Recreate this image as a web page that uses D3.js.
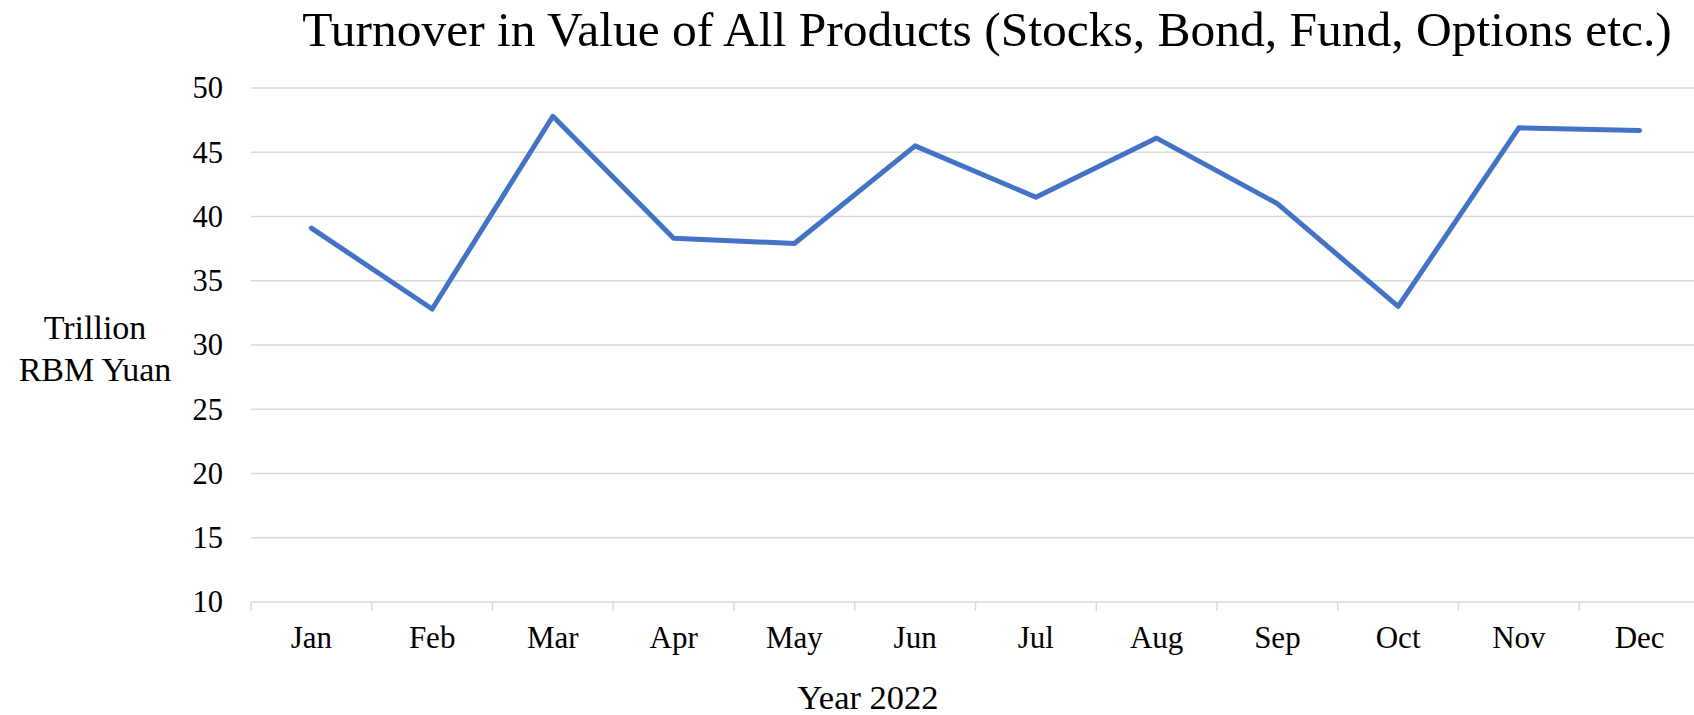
<!DOCTYPE html>
<html>
<head>
<meta charset="utf-8">
<script src="https://cdn.jsdelivr.net/npm/d3@7"></script>
<style>
  html, body { margin: 0; padding: 0; background: #fff; }
  svg { display: block; font-family: "Liberation Serif", "Times New Roman", serif; }
</style>
</head>
<body>
<svg id="chart" width="1694" height="715"></svg>
<script>
const months = ["Jan","Feb","Mar","Apr","May","Jun","Jul","Aug","Sep","Oct","Nov","Dec"];
const turnover = [39.1, 32.8, 47.8, 38.3, 37.9, 45.5, 41.5, 46.1, 41.0, 33.0, 46.9, 46.7];
const yTicks = [10, 15, 20, 25, 30, 35, 40, 45, 50];
const titleText = "Turnover in Value of All Products (Stocks, Bond, Fund, Options etc.)";
const yTitleLines = ["Trillion", "RBM Yuan"];
const xTitleText = "Year 2022";

const plotLeft = 251, plotRight = 1700, plotTop = 88, plotBottom = 602;

const svg = d3.select("#chart");

const x = d3.scaleBand().domain(months).range([plotLeft, plotRight]).padding(0);
const y = d3.scaleLinear().domain([10, 50]).range([plotBottom, plotTop]);

// gridlines
svg.append("g")
  .selectAll("line")
  .data(yTicks)
  .join("line")
  .attr("x1", plotLeft).attr("x2", plotRight)
  .attr("y1", d => y(d)).attr("y2", d => y(d))
  .attr("stroke", "#d9d9d9").attr("stroke-width", 1.5);

// y axis labels
const yAxis = svg.append("g")
  .attr("transform", `translate(${plotLeft},0)`)
  .call(d3.axisLeft(y).tickValues(yTicks).tickSize(0).tickPadding(28).tickFormat(d3.format("d")));
yAxis.select(".domain").remove();
yAxis.selectAll("text")
  .attr("font-family", "Liberation Serif, serif")
  .attr("font-size", 30.5).attr("fill", "#000");

// x axis ticks at category boundaries
const boundaries = months.map(m => x(m)).concat([plotRight]);
svg.append("g")
  .selectAll("line")
  .data(boundaries)
  .join("line")
  .attr("x1", d => d).attr("x2", d => d)
  .attr("y1", plotBottom).attr("y2", plotBottom + 9)
  .attr("stroke", "#d9d9d9").attr("stroke-width", 1.5);

svg.append("g")
  .selectAll("text")
  .data(months)
  .join("text")
  .attr("x", d => x(d) + x.bandwidth() / 2)
  .attr("y", 648)
  .attr("text-anchor", "middle")
  .attr("font-size", 31)
  .attr("fill", "#000")
  .text(d => d);

// line
const line = d3.line()
  .x((d, i) => x(months[i]) + x.bandwidth() / 2)
  .y(d => y(d));
svg.append("path")
  .datum(turnover)
  .attr("d", line)
  .attr("fill", "none")
  .attr("stroke", "#4472C4")
  .attr("stroke-width", 5)
  .attr("stroke-linejoin", "round")
  .attr("stroke-linecap", "round");

// title
svg.append("text")
  .attr("x", 987).attr("y", 45.5)
  .attr("text-anchor", "middle")
  .attr("font-size", 49.5)
  .attr("fill", "#000")
  .text(titleText);

// y title
svg.append("g")
  .selectAll("text")
  .data(yTitleLines)
  .join("text")
  .attr("x", 95)
  .attr("y", (d, i) => 339 + i * 41.5)
  .attr("text-anchor", "middle")
  .attr("font-size", 34)
  .attr("fill", "#000")
  .text(d => d);

// x title
svg.append("text")
  .attr("x", 868).attr("y", 709)
  .attr("text-anchor", "middle")
  .attr("font-size", 34.5)
  .attr("fill", "#000")
  .text(xTitleText);
</script>
</body>
</html>
